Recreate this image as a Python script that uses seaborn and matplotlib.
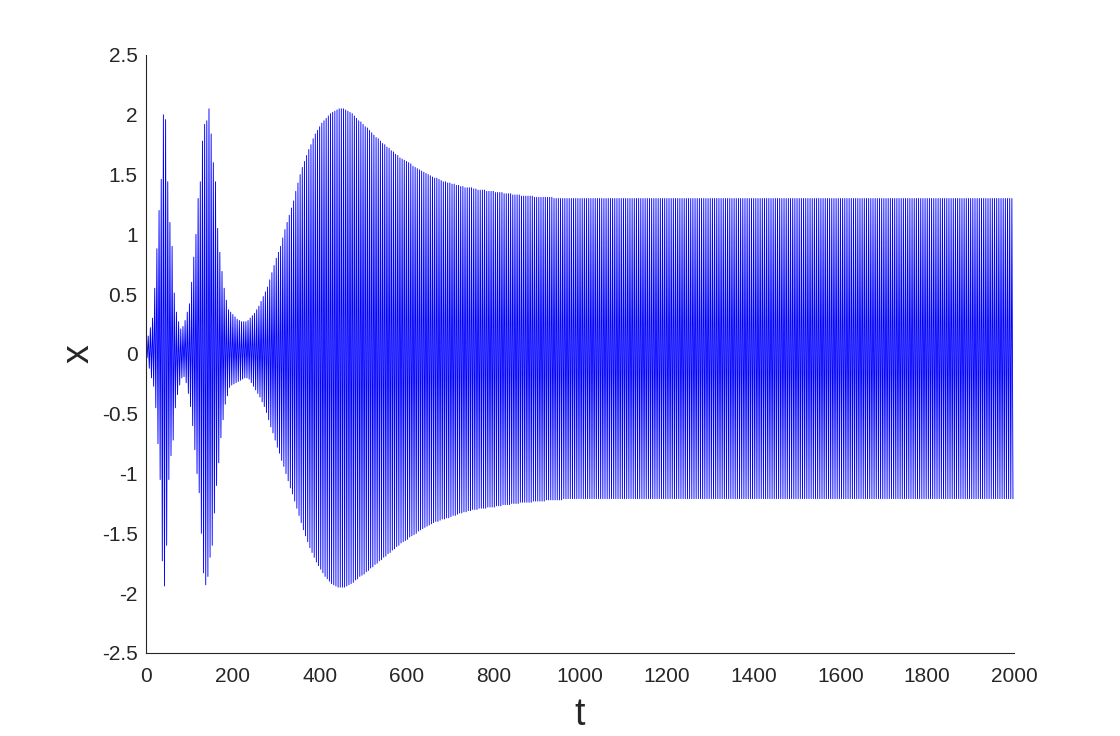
import numpy as np
import pandas as pd
import seaborn as sns
import matplotlib
matplotlib.use("Agg")
import matplotlib.pyplot as plt

# upper peaks of the oscillation, one per 5 time units (t = 0 .. 995)
upper_peaks = [
    0.03, 0.15, 0.22, 0.30, 0.55, 0.88, 1.20, 1.46, 2.00, 1.96,
    1.44, 1.10, 0.90, 0.51, 0.35, 0.27, 0.21, 0.23, 0.28, 0.35,
    0.42, 0.60, 0.81, 1.00, 1.30, 1.44, 1.78, 1.92, 1.95, 2.05,
    1.84, 1.60, 1.44, 1.05, 0.85, 0.69, 0.55, 0.45, 0.37, 0.35,
    0.33, 0.31, 0.29, 0.28, 0.27, 0.27, 0.27, 0.28, 0.30, 0.32,
    0.34, 0.37, 0.40, 0.44, 0.48, 0.52, 0.56, 0.62, 0.68, 0.74,
    0.80, 0.85, 0.90, 0.97, 1.04, 1.10, 1.16, 1.22, 1.28, 1.36,
    1.43, 1.50, 1.56, 1.61, 1.66, 1.71, 1.75, 1.80, 1.84, 1.87,
    1.90, 1.93, 1.95, 1.97, 1.99, 2.01, 2.02, 2.03, 2.04, 2.05,
    2.05, 2.05, 2.04, 2.03, 2.02, 2.01, 1.99, 1.97, 1.95, 1.94,
    1.92, 1.90, 1.89, 1.87, 1.85, 1.83, 1.81, 1.80, 1.78, 1.76,
    1.75, 1.73, 1.72, 1.70, 1.69, 1.67, 1.66, 1.64, 1.63, 1.62,
    1.61, 1.60, 1.59, 1.57, 1.56, 1.55, 1.54, 1.53, 1.52, 1.51,
    1.50, 1.49, 1.48, 1.47, 1.47, 1.46, 1.45, 1.44, 1.44, 1.43,
    1.43, 1.42, 1.42, 1.41, 1.41, 1.40, 1.40, 1.39, 1.39, 1.39,
    1.39, 1.38, 1.38, 1.37, 1.37, 1.37, 1.37, 1.36, 1.36, 1.36,
    1.36, 1.35, 1.35, 1.35, 1.35, 1.34, 1.34, 1.34, 1.34, 1.33,
    1.33, 1.33, 1.33, 1.32, 1.32, 1.32, 1.32, 1.32, 1.32, 1.31,
    1.31, 1.31, 1.31, 1.31, 1.31, 1.31, 1.31, 1.31, 1.30, 1.30,
    1.30, 1.30, 1.30, 1.30, 1.30, 1.30, 1.30, 1.30, 1.30, 1.30,
]
# steady state from t = 1000 on
upper_tail = [1.30] * 200

# lower troughs, half a cycle later (t = 2.5 .. 997.5)
lower_peaks = [
    -0.03, -0.12, -0.20, -0.27, -0.45, -0.75, -1.05, -1.73, -1.94, -1.60,
    -1.05, -0.85, -0.72, -0.45, -0.34, -0.26, -0.20, -0.19, -0.24, -0.33,
    -0.44, -0.60, -0.80, -1.00, -1.16, -1.50, -1.83, -1.93, -1.86, -1.70,
    -1.60, -1.33, -1.10, -0.91, -0.70, -0.55, -0.42, -0.35, -0.28, -0.26,
    -0.25, -0.24, -0.23, -0.22, -0.21, -0.20, -0.20, -0.21, -0.24, -0.27,
    -0.30, -0.33, -0.36, -0.40, -0.44, -0.49, -0.55, -0.61, -0.66, -0.72,
    -0.78, -0.83, -0.89, -0.94, -1.00, -1.06, -1.12, -1.17, -1.23, -1.29,
    -1.35, -1.41, -1.47, -1.52, -1.57, -1.62, -1.66, -1.70, -1.74, -1.77,
    -1.80, -1.83, -1.86, -1.88, -1.90, -1.92, -1.93, -1.94, -1.95, -1.95,
    -1.95, -1.95, -1.94, -1.93, -1.92, -1.91, -1.89, -1.88, -1.86, -1.85,
    -1.84, -1.82, -1.81, -1.79, -1.78, -1.76, -1.75, -1.73, -1.72, -1.70,
    -1.69, -1.67, -1.66, -1.64, -1.63, -1.61, -1.60, -1.58, -1.57, -1.56,
    -1.55, -1.53, -1.52, -1.51, -1.50, -1.48, -1.47, -1.46, -1.45, -1.44,
    -1.43, -1.42, -1.41, -1.40, -1.40, -1.39, -1.38, -1.38, -1.37, -1.37,
    -1.36, -1.35, -1.35, -1.34, -1.33, -1.33, -1.32, -1.32, -1.31, -1.31,
    -1.30, -1.30, -1.30, -1.29, -1.29, -1.29, -1.29, -1.28, -1.28, -1.28,
    -1.28, -1.27, -1.27, -1.27, -1.26, -1.26, -1.26, -1.26, -1.25, -1.25,
    -1.25, -1.25, -1.24, -1.24, -1.24, -1.24, -1.24, -1.24, -1.23, -1.23,
    -1.23, -1.23, -1.23, -1.23, -1.22, -1.22, -1.22, -1.22, -1.22, -1.22,
    -1.22, -1.22, -1.21, -1.21, -1.21, -1.21, -1.21, -1.21, -1.21, -1.21,
]
lower_tail = [-1.21] * 200

t_upper = np.arange(0, 2000, 5.0)
t_lower = np.arange(2.5, 2000, 5.0)

xticks = [0, 200, 400, 600, 800, 1000, 1200, 1400, 1600, 1800, 2000]
yticks = [-2.5, -2, -1.5, -1, -0.5, 0, 0.5, 1, 1.5, 2, 2.5]
ytick_labels = ["-2.5", "-2", "-1.5", "-1", "-0.5", "0", "0.5", "1", "1.5", "2", "2.5"]

up = pd.DataFrame({"t": t_upper, "x": upper_peaks + upper_tail})
lo = pd.DataFrame({"t": t_lower, "x": lower_peaks + lower_tail})
df = pd.concat([up, lo]).sort_values("t").reset_index(drop=True)

sns.set_style("white")
plt.rcParams["font.family"] = ["Liberation Sans", "DejaVu Sans"]
plt.rcParams["axes.unicode_minus"] = False

dark = "#262626"
fig = plt.figure(figsize=(11.2, 7.36), dpi=100)
ax = fig.add_axes([0.1304, 0.1128, 0.775, 0.8125])

sns.lineplot(data=df, x="t", y="x", ax=ax, color=(0, 0, 1), lw=0.65,
             estimator=None, sort=False)

ax.set_xlim(0, 2000)
ax.set_ylim(-2.5, 2.5)
ax.set_xticks(xticks)
ax.set_xticklabels([str(v) for v in xticks])
ax.set_yticks(yticks)
ax.set_yticklabels(ytick_labels)
ax.tick_params(direction="in", length=6, width=0.8, colors=dark,
               labelsize=15)
ax.tick_params(axis="x", pad=10)
ax.tick_params(axis="y", pad=6)
for side in ["top", "right"]:
    ax.spines[side].set_visible(False)
for side in ["left", "bottom"]:
    ax.spines[side].set_color(dark)
    ax.spines[side].set_linewidth(0.8)

ax.set_xlabel("t", fontsize=27, color=dark, labelpad=8)
ax.set_ylabel("x", fontsize=27, color=dark, rotation=90, labelpad=4)

fig.savefig("out.png", dpi=100, facecolor="white")
